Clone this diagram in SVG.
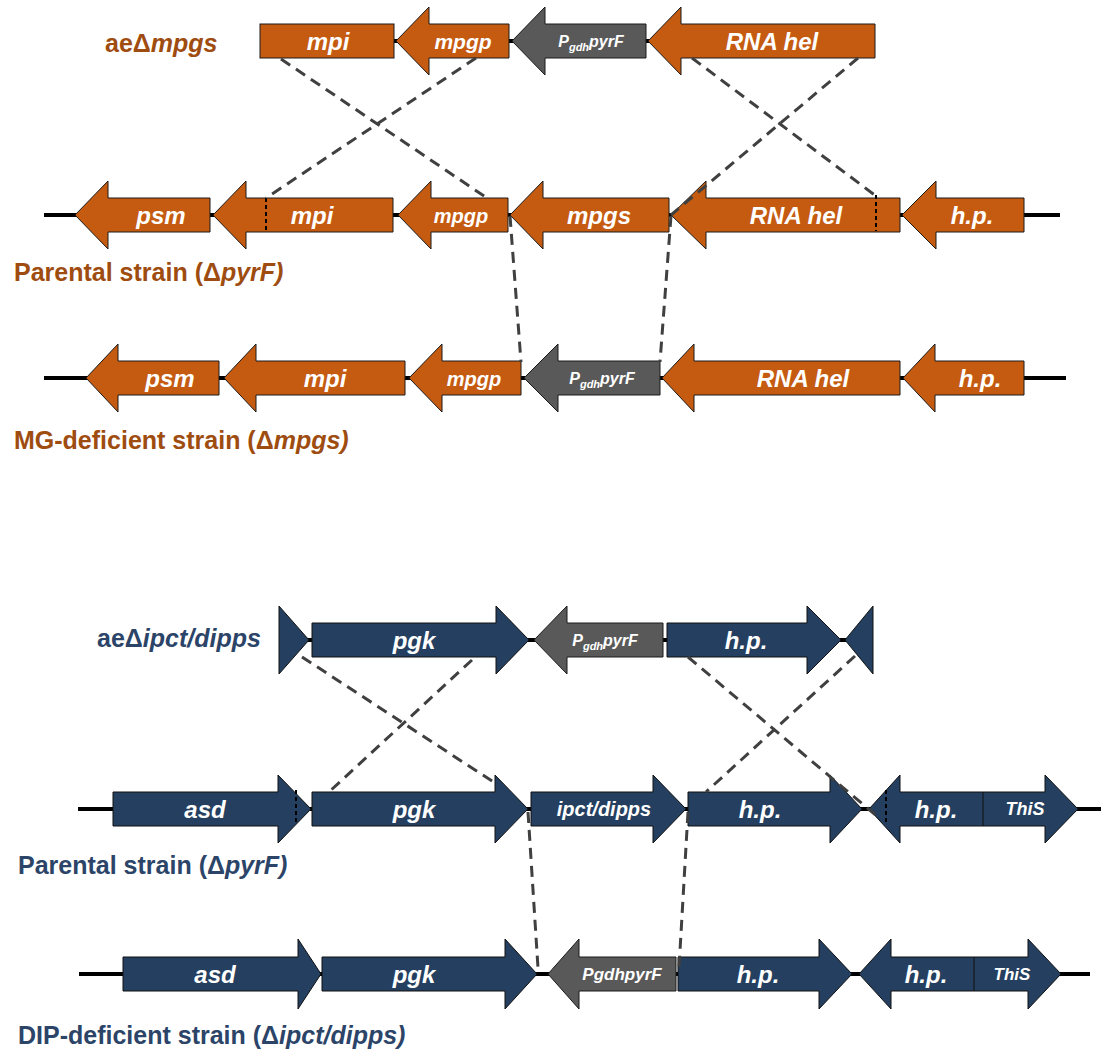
<svg xmlns="http://www.w3.org/2000/svg" width="1107" height="1053" viewBox="0 0 1107 1053">
<style>
.o{fill:#C55A11;stroke:#1a1a1a;stroke-width:1}
.n{fill:#243F5F;stroke:#111;stroke-width:1}
.g{fill:#595959;stroke:#1a1a1a;stroke-width:1}
.bb{stroke:#000;stroke-width:4;fill:none}
.dot{stroke:#000;stroke-width:2;stroke-dasharray:4 3;fill:none}
.dash{stroke:#404040;stroke-width:3;stroke-dasharray:11 7;fill:none}
.div{stroke:#111;stroke-width:1}
.t{font-family:"Liberation Sans",Arial,sans-serif;font-weight:bold;font-style:italic;fill:#fff;text-anchor:middle}
.lo{font-family:"Liberation Sans",Arial,sans-serif;font-weight:bold;font-size:25px;fill:#9E4C10}
.ln{font-family:"Liberation Sans",Arial,sans-serif;font-weight:bold;font-size:25px;fill:#2B4468}
.it{font-style:italic}
</style>
<rect width="1107" height="1053" fill="#fff"/>

<!-- backbone lines -->
<g id="backbones">
<line class="bb" x1="394" y1="41" x2="650" y2="41"/>
<line class="bb" x1="44" y1="215" x2="1060" y2="215"/>
<line class="bb" x1="44" y1="378" x2="1066" y2="378"/>
<line class="bb" x1="305" y1="640" x2="850" y2="640"/>
<line class="bb" x1="78" y1="809" x2="1101" y2="809"/>
<line class="bb" x1="79" y1="974" x2="1090" y2="974"/>
</g>

<!-- Top section: aeΔmpgs -->
<g id="ae-mpgs">
<g id="a1-mpi"><rect class="o" x="260" y="24" width="134" height="34"/><text class="t" x="328" y="50" font-size="24">mpi</text></g>
<g id="a1-mpgp"><path class="o" d="M396,41 L429,7 L429,24 L509,24 L509,58 L429,58 L429,75 Z"/><text class="t" x="463" y="49" font-size="21">mpgp</text></g>
<g id="a1-pyrF"><path class="g" d="M512,41 L545,7 L545,24 L646,24 L646,58 L545,58 L545,75 Z"/><text class="t" x="591" y="47" font-size="16">P<tspan font-size="11" dy="4">gdh</tspan><tspan dy="-4">pyrF</tspan></text></g>
<g id="a1-rnahel"><path class="o" d="M648,41 L681,7 L681,24 L875,24 L875,58 L681,58 L681,75 Z"/><text class="t" x="772" y="50" font-size="24">RNA hel</text></g>
</g>

<!-- Parental (ΔpyrF) top -->
<g id="p1">
<g id="p1-psm"><path class="o" d="M75,215 L108,181 L108,198 L210,198 L210,232 L108,232 L108,249 Z"/><text class="t" x="161" y="224" font-size="24">psm</text></g>
<g id="p1-mpi"><path class="o" d="M213,215 L246,181 L246,198 L393,198 L393,232 L246,232 L246,249 Z"/><text class="t" x="312" y="224" font-size="24">mpi</text></g>
<g id="p1-mpgp"><path class="o" d="M398,215 L431,181 L431,198 L508,198 L508,232 L431,232 L431,249 Z"/><text class="t" x="461" y="223" font-size="20">mpgp</text></g>
<g id="p1-mpgs"><path class="o" d="M510,215 L543,181 L543,198 L669,198 L669,232 L543,232 L543,249 Z"/><text class="t" x="599" y="224" font-size="24">mpgs</text></g>
<g id="p1-rnahel"><path class="o" d="M671,215 L706,181 L706,198 L900,198 L900,232 L706,232 L706,249 Z"/><text class="t" x="796" y="224" font-size="24">RNA hel</text></g>
<g id="p1-hp"><path class="o" d="M902,215 L936,181 L936,198 L1024,198 L1024,232 L936,232 L936,249 Z"/><text class="t" x="972" y="224" font-size="24">h.p.</text></g>
<line class="dot" x1="266" y1="198" x2="266" y2="231"/>
<line class="dot" x1="876" y1="195" x2="876" y2="231"/>
</g>
<text id="lbl-p1" class="lo" x="14" y="281">Parental strain (Δ<tspan class="it">pyrF)</tspan></text>

<!-- MG-deficient -->
<g id="mg">
<g id="mg-psm"><path class="o" d="M86,378 L118,344 L118,361 L219,361 L219,395 L118,395 L118,412 Z"/><text class="t" x="170" y="387" font-size="24">psm</text></g>
<g id="mg-mpi"><path class="o" d="M224,378 L256,344 L256,361 L405,361 L405,395 L256,395 L256,412 Z"/><text class="t" x="325" y="387" font-size="24">mpi</text></g>
<g id="mg-mpgp"><path class="o" d="M409,378 L442,344 L442,361 L521,361 L521,395 L442,395 L442,412 Z"/><text class="t" x="474" y="386" font-size="20">mpgp</text></g>
<g id="mg-pyrF"><path class="g" d="M524,378 L558,344 L558,361 L660,361 L660,395 L558,395 L558,412 Z"/><text class="t" x="602" y="384" font-size="16">P<tspan font-size="11" dy="4">gdh</tspan><tspan dy="-4">pyrF</tspan></text></g>
<g id="mg-rnahel"><path class="o" d="M662,378 L694,344 L694,361 L900,361 L900,395 L694,395 L694,412 Z"/><text class="t" x="803" y="387" font-size="24">RNA hel</text></g>
<g id="mg-hp"><path class="o" d="M903,378 L935,344 L935,361 L1024,361 L1024,395 L935,395 L935,412 Z"/><text class="t" x="980" y="387" font-size="24">h.p.</text></g>
</g>
<text id="lbl-mg" class="lo" x="14" y="449">MG-deficient strain (Δ<tspan class="it">mpgs)</tspan></text>
<text id="lbl-ae1" class="lo" x="105" y="52">aeΔ<tspan class="it">mpgs</tspan></text>

<!-- Bottom section: aeΔipct/dipps -->
<g id="ae-dipps">
<g id="a2-flankL"><path class="n" d="M279,606 L309,640 L279,674 Z"/></g>
<g id="a2-pgk"><path class="n" d="M312,623 L496,623 L496,606 L529,640 L496,674 L496,657 L312,657 Z"/><text class="t" x="414" y="649" font-size="24">pgk</text></g>
<g id="a2-pyrF"><path class="g" d="M534,640 L567,606 L567,623 L663,623 L663,657 L567,657 L567,674 Z"/><text class="t" x="605" y="646" font-size="16">P<tspan font-size="11" dy="4">gdh</tspan><tspan dy="-4">pyrF</tspan></text></g>
<g id="a2-hp"><path class="n" d="M667,623 L807,623 L807,606 L841,640 L807,674 L807,657 L667,657 Z"/><text class="t" x="746" y="649" font-size="24">h.p.</text></g>
<g id="a2-flankR"><path class="n" d="M845,640 L873,606 L873,674 Z"/></g>
</g>
<text id="lbl-ae2" class="ln" x="97" y="647">aeΔ<tspan class="it">ipct/dipps</tspan></text>

<!-- Parental bottom -->
<g id="p2">
<g id="p2-asd"><path class="n" d="M113,792 L278,792 L278,775 L311,809 L278,843 L278,826 L113,826 Z"/><text class="t" x="205" y="818" font-size="24">asd</text></g>
<g id="p2-pgk"><path class="n" d="M312,792 L495,792 L495,775 L528,809 L495,843 L495,826 L312,826 Z"/><text class="t" x="414" y="818" font-size="24">pgk</text></g>
<g id="p2-ipct"><path class="n" d="M531,792 L653,792 L653,775 L686,809 L653,843 L653,826 L531,826 Z"/><text class="t" x="604" y="816" font-size="20">ipct/dipps</text></g>
<g id="p2-hp"><path class="n" d="M688,792 L830,792 L830,775 L862,809 L830,843 L830,826 L688,826 Z"/><text class="t" x="760" y="818" font-size="24">h.p.</text></g>
<g id="p2-hp-this"><path class="n" d="M869,809 L900,775 L900,792 L1045,792 L1045,775 L1078,809 L1045,843 L1045,826 L900,826 L900,843 Z"/><line class="div" x1="983" y1="792" x2="983" y2="826"/><text class="t" x="936" y="818" font-size="24">h.p.</text><text class="t" x="1025" y="815" font-size="18">ThiS</text></g>
<line class="dot" x1="296" y1="790" x2="296" y2="825"/>
<line class="dot" x1="886" y1="790" x2="886" y2="823"/>
</g>
<text id="lbl-p2" class="ln" x="18" y="874">Parental strain (Δ<tspan class="it">pyrF)</tspan></text>

<!-- DIP-deficient -->
<g id="dip">
<g id="d-asd"><path class="n" d="M123,957 L298,957 L298,939 L321,974 L298,1009 L298,991 L123,991 Z"/><text class="t" x="215" y="983" font-size="24">asd</text></g>
<g id="d-pgk"><path class="n" d="M322,957 L505,957 L505,939 L537,974 L505,1009 L505,991 L322,991 Z"/><text class="t" x="414" y="983" font-size="24">pgk</text></g>
<g id="d-pyrF"><path class="g" d="M548,974 L579,939 L579,957 L676,957 L676,991 L579,991 L579,1009 Z"/><text class="t" x="622" y="980" font-size="17">PgdhpyrF</text></g>
<g id="d-hp"><path class="n" d="M678,957 L819,957 L819,939 L852,974 L819,1009 L819,991 L678,991 Z"/><text class="t" x="758" y="983" font-size="24">h.p.</text></g>
<g id="d-hp-this"><path class="n" d="M859,974 L891,939 L891,957 L1028,957 L1028,939 L1061,974 L1028,1009 L1028,991 L891,991 L891,1009 Z"/><line class="div" x1="974" y1="957" x2="974" y2="991"/><text class="t" x="926" y="983" font-size="24">h.p.</text><text class="t" x="1012" y="980" font-size="17">ThiS</text></g>
</g>
<text id="lbl-dip" class="ln" x="18" y="1044">DIP-deficient strain (Δ<tspan class="it">ipct/dipps)</tspan></text>

<!-- connectors -->
<g id="connectors">
<line class="dash" x1="281" y1="59" x2="487" y2="198"/>
<line class="dash" x1="476" y1="58" x2="266" y2="198"/>
<line class="dash" x1="692" y1="58" x2="876" y2="196"/>
<line class="dash" x1="858" y1="58" x2="671" y2="215"/>
<line class="dash" x1="510" y1="216" x2="521" y2="362"/>
<line class="dash" x1="671" y1="216" x2="660" y2="362"/>
<line class="dash" x1="302" y1="657" x2="495" y2="783"/>
<line class="dash" x1="472" y1="660" x2="330" y2="791"/>
<line class="dash" x1="688" y1="657" x2="878" y2="817"/>
<line class="dash" x1="855" y1="656" x2="706" y2="792"/>
<line class="dash" x1="528" y1="812" x2="538" y2="968"/>
<line class="dash" x1="688" y1="812" x2="679" y2="968"/>
</g>
</svg>
